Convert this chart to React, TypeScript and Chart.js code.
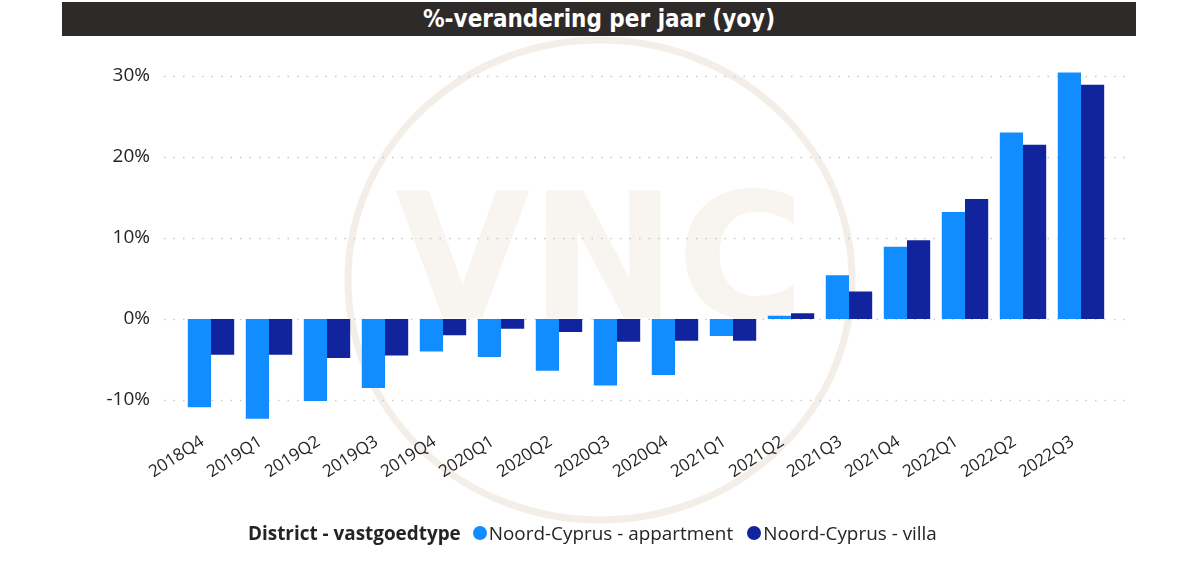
import React, { useEffect, useRef } from "react";
import { Chart, registerables } from "chart.js";

Chart.register(...registerables);

const categories = [
  "2018Q4", "2019Q1", "2019Q2", "2019Q3", "2019Q4", "2020Q1", "2020Q2", "2020Q3",
  "2020Q4", "2021Q1", "2021Q2", "2021Q3", "2021Q4", "2022Q1", "2022Q2", "2022Q3",
];
const appartmentValues = [-10.9, -12.3, -10.1, -8.5, -4.0, -4.7, -6.4, -8.2, -6.9, -2.1, 0.4, 5.4, 8.9, 13.2, 23.0, 30.4];
const villaValues = [-4.4, -4.4, -4.8, -4.5, -2.0, -1.2, -1.6, -2.8, -2.7, -2.7, 0.7, 3.4, 9.7, 14.8, 21.5, 28.9];
const yTicks = [-10, 0, 10, 20, 30];
const seriesNames = ["Noord-Cyprus - appartment", "Noord-Cyprus - villa"];
const seriesColors = ["#118DFF", "#12239E"];
const titleText = "%-verandering per jaar (yoy)";
const legendTitle = "District - vastgoedtype";

const FONT = "'Open Sans', 'Noto Sans', sans-serif";

const backgroundPlugin = {
  id: "bgDecor",
  beforeDatasetsDraw(chart: any) {
    const ctx = chart.ctx;
    const y = chart.scales.y;
    ctx.save();
    // watermark
    ctx.strokeStyle = "rgba(222, 210, 190, 0.35)";
    ctx.lineWidth = 7;
    ctx.beginPath();
    ctx.ellipse(600, 280, 252, 240, 0, 0, Math.PI * 2);
    ctx.stroke();
    ctx.fillStyle = "rgba(232, 222, 205, 0.32)";
    ctx.font = "bold 175px 'DejaVu Sans', sans-serif";
    ctx.textAlign = "center";
    ctx.textBaseline = "alphabetic";
    ctx.fillText("VNC", 600, 318);
    // dotted gridlines
    ctx.strokeStyle = "#c9c9c9";
    ctx.lineWidth = 1.5;
    ctx.setLineDash([1.5, 8]);
    for (const v of yTicks) {
      const py = Math.round(y.getPixelForValue(v)) + 0.5;
      ctx.beginPath();
      ctx.moveTo(164, py);
      ctx.lineTo(1132, py);
      ctx.stroke();
    }
    ctx.restore();
  },
  afterDraw(chart: any) {
    const ctx = chart.ctx;
    const x = chart.scales.x;
    ctx.save();
    ctx.fillStyle = "#252423";
    ctx.font = `17px ${FONT}`;
    ctx.textAlign = "right";
    ctx.textBaseline = "top";
    categories.forEach((label, i) => {
      const px = x.getPixelForValue(i);
      ctx.save();
      ctx.translate(px - 13, 433);
      ctx.rotate((-33 * Math.PI) / 180);
      ctx.fillText(label, 0, 0);
      ctx.restore();
    });
    ctx.restore();
  },
};

export default function App() {
  const canvasRef = useRef<HTMLCanvasElement | null>(null);

  useEffect(() => {
    const canvas = canvasRef.current;
    if (!canvas) return;
    const chart = new Chart(canvas, {
      type: "bar",
      data: {
        labels: categories,
        datasets: [
          {
            label: seriesNames[0],
            data: appartmentValues,
            backgroundColor: seriesColors[0],
            categoryPercentage: 0.8,
            barPercentage: 1.0,
          },
          {
            label: seriesNames[1],
            data: villaValues,
            backgroundColor: seriesColors[1],
            categoryPercentage: 0.8,
            barPercentage: 1.0,
          },
        ],
      },
      options: {
        animation: false,
        responsive: false,
        maintainAspectRatio: false,
        layout: { padding: { top: 59.5, right: 90, bottom: 0, left: 0 } },
        plugins: {
          legend: { display: false },
          title: { display: false },
          tooltip: { enabled: false },
        },
        scales: {
          x: {
            grid: { display: false },
            border: { display: false },
            ticks: { display: false },
            afterFit(scale: any) {
              scale.height = 132.5;
            },
          },
          y: {
            min: -14,
            max: 32,
            grid: { display: false },
            border: { display: false },
            afterBuildTicks(scale: any) {
              scale.ticks = yTicks.map((v) => ({ value: v }));
            },
            ticks: {
              padding: 24,
              color: "#252423",
              font: { family: FONT, size: 19 },
              callback: (v: any) => `${v}%`,
            },
            afterFit(scale: any) {
              scale.width = 182;
            },
          },
        },
      },
      plugins: [backgroundPlugin],
    });
    return () => chart.destroy();
  }, []);

  return (
    <div style={{ position: "fixed", left: 0, top: 0, width: 1200, height: 565, background: "#ffffff", overflow: "hidden" }}>
      <canvas ref={canvasRef} width={1200} height={565} style={{ position: "absolute", left: 0, top: 0, width: 1200, height: 565 }} />
      <div
        style={{
          position: "absolute",
          left: 62,
          top: 2,
          width: 1074,
          height: 34,
          background: "#2e2a29",
          color: "#ffffff",
          display: "flex",
          alignItems: "center",
          justifyContent: "center",
          fontFamily: "'DejaVu Sans Condensed', 'DejaVu Sans', sans-serif",
          fontStretch: "condensed",
          fontWeight: 700,
          fontSize: 24,
        }}
      >
        {titleText}
      </div>
      <div
        style={{
          position: "absolute",
          left: 248,
          top: 519,
          height: 28,
          display: "flex",
          alignItems: "center",
          fontFamily: FONT,
          fontSize: 18.9,
          color: "#252423",
          whiteSpace: "nowrap",
        }}
      >
        <span style={{ fontWeight: 700, marginRight: 12 }}>{legendTitle}</span>
        {seriesNames.map((name, i) => (
          <span key={name} style={{ display: "flex", alignItems: "center", marginRight: 14 }}>
            <span style={{ display: "inline-block", width: 14, height: 14, borderRadius: "50%", background: seriesColors[i], marginRight: 2 }} />
            <span>{name}</span>
          </span>
        ))}
      </div>
    </div>
  );
}
